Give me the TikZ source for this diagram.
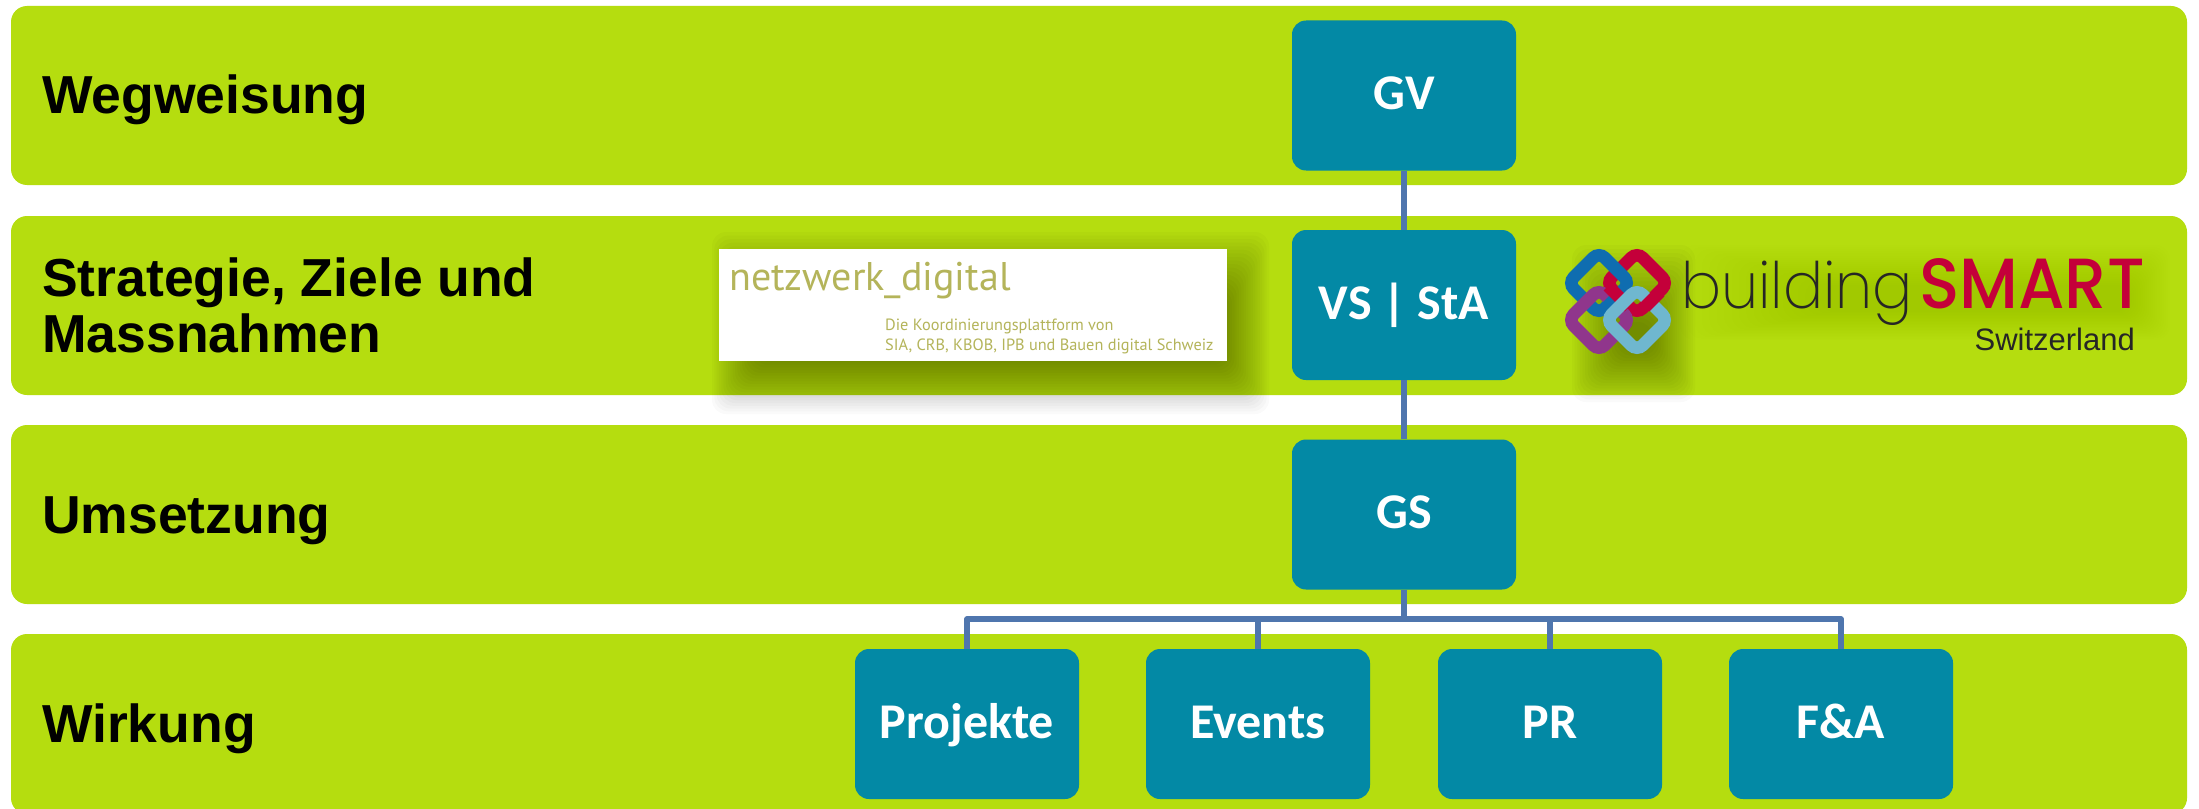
\documentclass[tikz,border=0pt]{standalone}
\usepackage{fontspec}
\setmainfont{Liberation Sans}
\newfontfamily\boxfont{Carlito}
\newfontfamily\nwfont{PT Sans}
\newfontfamily\bsfont{Poppins}[UprightFont=*-ExtraLight,BoldFont=*-Medium,FakeStretch=0.93]
\newfontfamily\bsbold{Poppins}[UprightFont=*-Medium,FakeStretch=0.94]
\definecolor{bandgreen}{HTML}{B5DD0F}
\definecolor{boxteal}{HTML}{0389A5}
\definecolor{linkblue}{HTML}{4F76AE}
\definecolor{nwolive}{HTML}{B4B45A}
\definecolor{bsred}{HTML}{C4003A}
\definecolor{bsblue}{HTML}{0F6DB0}
\definecolor{bspurple}{HTML}{90368C}
\definecolor{bscyan}{HTML}{6FB7CF}
\tikzset{
  band/.style={fill=bandgreen,rounded corners=16pt,minimum width=2176pt,inner sep=0pt},
  orgbox/.style={fill=boxteal,rounded corners=14pt,minimum width=224pt,minimum height=150pt,inner sep=0pt,
    text=white,font=\boxfont\bfseries\fontsize{50}{50}\selectfont,text height=28pt,text depth=0pt},
  rowlabel/.style={font=\bfseries\fontsize{53.5}{56}\selectfont,inner sep=0pt,align=left},
  link/.style={draw=linkblue,line width=5.5pt},
  ring/.style={line width=12.5pt,rounded corners=8pt},
  ringpiece/.style={line width=12.5pt},
}
\newcommand{\softshadow}[9]{% outer x0 y0 x1 y1, inner x0 y0 x1 y1, opacity per step
  \foreach \t in {0,...,19}{
    \pgfmathsetmacro{\aa}{#1+(#5-#1)*\t/19}
    \pgfmathsetmacro{\bb}{#2+(#6-#2)*\t/19}
    \pgfmathsetmacro{\cc}{#3+(#7-#3)*\t/19}
    \pgfmathsetmacro{\dd}{#4+(#8-#4)*\t/19}
    \fill[black,opacity=#9,rounded corners=14pt] (\aa,\bb) rectangle (\cc,\dd);
  }}
\newcommand{\diamondring}[3]{% cx cy colour
  \draw[ring,draw=#3] (#1-31,#2) -- (#1,#2-31) -- (#1+31,#2) -- (#1,#2+31) -- cycle;}
\begin{document}
\begin{tikzpicture}[x=1pt,y=-1pt]
\useasboundingbox (0,0) rectangle (2199,808);
\fill[white] (0,0) rectangle (2199,808);
% bands
\node[band,minimum height=179pt] (b1) at (1099,95.5) {};
\node[band,minimum height=179pt] (b2) at (1099,305.5) {};
\node[band,minimum height=179pt] (b3) at (1099,514.5) {};
\node[band,minimum height=180pt] (b4) at (1099,724) {};
% row labels
\node[rowlabel,anchor=base west] (l1) at (42,113) {Wegweisung};
\node[rowlabel,anchor=west] (l2) at (42,305) {Strategie, Ziele und\\Massnahmen};
\node[rowlabel,anchor=base west] (l3) at (42,533) {Umsetzung};
\node[rowlabel,anchor=base west] (l4) at (42,742) {Wirkung};
% soft shadows
\softshadow{712}{232}{1269}{414}{756}{300}{1225}{362}{0.021}
\softshadow{1572}{245}{1695}{402}{1622}{322}{1652}{350}{0.019}
\softshadow{1680}{245}{2170}{340}{1820}{285}{2130}{312}{0.0035}
% netzwerk_digital card
\node[fill=white,minimum width=508pt,minimum height=112pt,inner sep=0pt] (nw) at (973,305) {};
\node[anchor=base west,inner sep=0pt,text=nwolive,font=\nwfont\fontsize{40}{40}\selectfont] (nw1) at (729,290) {netzwerk\_digital};
\node[anchor=base west,inner sep=0pt,text=nwolive,font=\nwfont\fontsize{16.3}{16.3}\selectfont] (nw2) at (885,330) {Die Koordinierungsplattform von};
\node[anchor=base west,inner sep=0pt,text=nwolive,font=\nwfont\fontsize{16.3}{16.3}\selectfont] (nw3) at (885,350) {SIA, CRB, KBOB, IPB und Bauen digital Schweiz};
% buildingSMART logo
\diamondring{1637}{283}{bsred}
\diamondring{1599}{283}{bsblue}
\diamondring{1599}{320}{bspurple}
\draw[ringpiece,draw=bsblue] (1618,296) -- (1606,308);
\draw[ringpiece,draw=bsred] (1608,286) -- (1629,307);
\diamondring{1637}{320}{bscyan}
\draw[ringpiece,draw=bsred] (1660,292) -- (1645,307);
\node[anchor=base west,inner sep=0pt,text=black!85,font=\bsfont\fontsize{64}{64}\selectfont] (bs1) at (1681,308) {building};
\node[anchor=base west,inner sep=0pt,text=bsred,font=\bsbold\fontsize{71}{71}\selectfont] (bs2) at (1919,308) {SMART};
\node[anchor=base east,inner sep=0pt,text=black!85,font=\fontsize{31}{31}\selectfont] (bs3) at (2135,350) {Switzerland};
% boxes
\node[orgbox] (gv) at (1404,95.5) {GV};
\node[orgbox] (vs) at (1404,305) {VS | StA};
\node[orgbox] (gs) at (1404,514.5) {GS};
\node[orgbox] (pj) at (967,724) {Projekte};
\node[orgbox] (ev) at (1258,724) {Events};
\node[orgbox] (pr) at (1550,724) {PR};
\node[orgbox] (fa) at (1841,724) {F\&A};
% connectors
\coordinate (bus) at (1404,619);
\draw[link] (gv.south) -- (vs.north);
\draw[link] (vs.south) -- (gs.north);
\draw[link] (gs.south) -- (bus);
\draw[link,line join=round] (pj.north) -- (pj.north |- bus) -- (fa.north |- bus) -- (fa.north);
\draw[link] (ev.north) -- (ev.north |- bus);
\draw[link] (pr.north) -- (pr.north |- bus);
\end{tikzpicture}
\end{document}
